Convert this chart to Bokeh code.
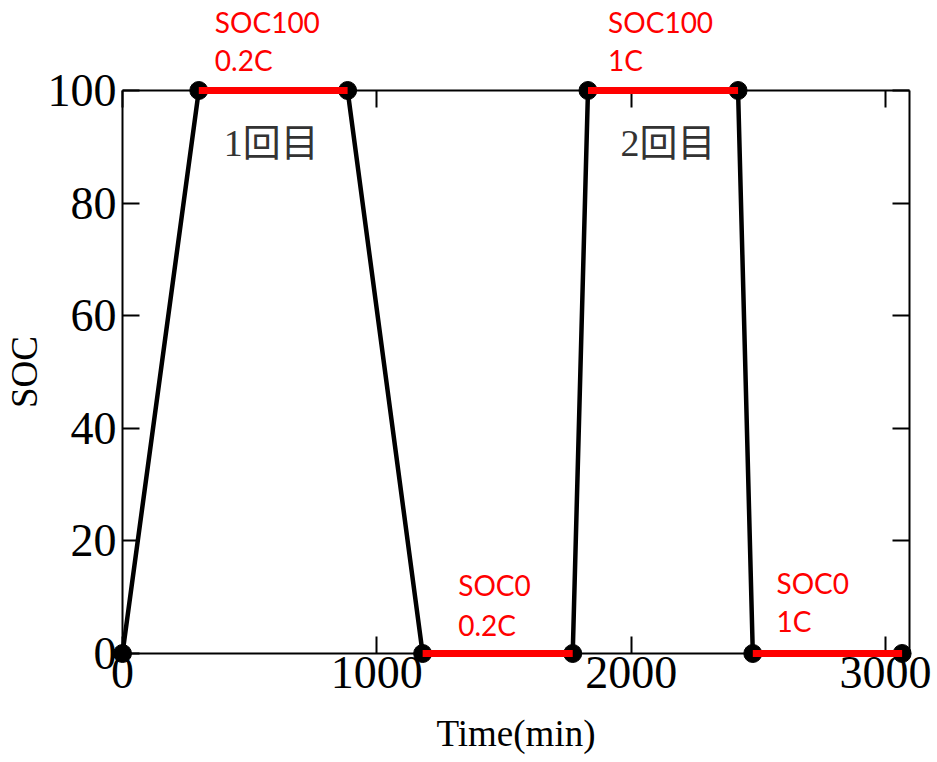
from bokeh.plotting import figure
from bokeh.models import Range1d, LinearAxis, CustomLabelingPolicy
from bokeh.core.properties import value
from bokeh.embed import file_html
from bokeh.resources import INLINE

# SOC profile: charge / hold at SOC100 / discharge / hold at SOC0, twice
time_min = [0, 300, 885, 1180, 1770, 1830, 2420, 2478, 3065]
soc = [0, 100, 100, 0, 0, 100, 100, 0, 0]

# hold periods (index pairs into the profile)
hold_start = [1, 3, 5, 7]
hold_end = [2, 4, 6, 8]

# red annotations for the hold periods
ann_x = [363, 1320, 1909, 2571]
ann_line1 = ["SOC100", "SOC0", "SOC100", "SOC0"]
ann_line1_y = [112.1, 12.1, 112.1, 12.5]
ann_line2 = ["0.2C", "0.2C", "1C", "1C"]
ann_line2_y = [105.5, 5.1, 105.5, 5.8]

# cycle labels
cycle_x = [398, 1958]
cycle_y = [90.6, 90.6]
cycle_text = ["1回目", "2回目"]

x_ticks = [0, 1000, 2000, 3000]
y_ticks = [0, 20, 40, 60, 80, 100]

SERIF = "Liberation Serif"

p = figure(
    width=937, height=762,
    x_range=Range1d(0, 3094), y_range=Range1d(0, 100),
    output_backend="svg", toolbar_location=None,
    min_border_left=120, min_border_right=28,
    min_border_top=90, min_border_bottom=109,
    x_axis_label="Time(min)", y_axis_label="SOC",
)
p.grid.visible = False
p.outline_line_color = None
p.background_fill_color = "white"
p.border_fill_color = "white"

# extra axes on the top and right close the box (ticks only, no labels)
no_labels = CustomLabelingPolicy(
    code="for (const i of indices) { indices.unset(i) }\nreturn indices"
)
top_axis = LinearAxis(major_label_policy=no_labels)
right_axis = LinearAxis(major_label_policy=no_labels)
p.add_layout(top_axis, "above")
p.add_layout(right_axis, "right")

for ax in p.axis:
    ax.axis_line_width = 2
    ax.axis_line_color = "black"
    ax.major_tick_in = 17
    ax.major_tick_out = 0
    ax.minor_tick_in = 8
    ax.minor_tick_out = 0
    ax.major_tick_line_width = 2
    ax.minor_tick_line_width = 2
    ax.major_tick_line_color = "black"
    ax.minor_tick_line_color = "black"
    ax.major_label_text_font = SERIF
    ax.major_label_text_font_size = "46px"
    ax.major_label_text_color = "black"
    ax.axis_label_text_font = SERIF
    ax.axis_label_text_font_size = "37px"
    ax.axis_label_text_font_style = "normal"
    ax.axis_label_text_color = "black"

# the box-closing axes take no room for labels
for ax in (top_axis, right_axis):
    ax.major_label_text_font_size = "0px"
    ax.major_label_standoff = 0

for ax in p.xaxis:
    ax.ticker = x_ticks
    ax.ticker.num_minor_ticks = 2
for ax in p.yaxis:
    ax.ticker = y_ticks
    ax.ticker.num_minor_ticks = 2

p.below[0].major_label_standoff = 3
p.below[0].axis_label_standoff = 22
p.left[0].major_label_standoff = 6
p.left[0].axis_label_standoff = 0

# profile line and points (drawn above the frame so edge points stay whole)
p.line(time_min, soc, line_color="black", line_width=4.5, level="overlay")
p.scatter(time_min, soc, size=18, fill_color="black", line_color="black",
          level="overlay")

# hold periods in red
p.segment(
    x0=[time_min[i] for i in hold_start], y0=[soc[i] for i in hold_start],
    x1=[time_min[i] for i in hold_end], y1=[soc[i] for i in hold_end],
    line_color="#ff0000", line_width=7, level="overlay",
)

p.text(ann_x, ann_line1_y, text=ann_line1, text_font=value("Lato"),
       text_font_size="28px", text_color="#ff0000",
       text_baseline="alphabetic", text_align="left", level="overlay")
p.text(ann_x, ann_line2_y, text=ann_line2, text_font=value("Lato"),
       text_font_size="28px", text_color="#ff0000",
       text_baseline="alphabetic", text_align="left", level="overlay")

p.text(cycle_x, cycle_y, text=cycle_text,
       text_font=value("Liberation Serif, Noto Sans CJK JP"),
       text_font_size="38px", text_color="#333333",
       text_baseline="alphabetic", text_align="left", level="overlay")

open("out.html", "w").write(file_html(p, INLINE))
